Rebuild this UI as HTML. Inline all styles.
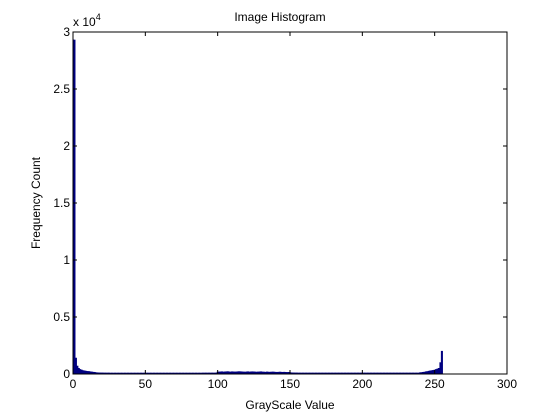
<!DOCTYPE html>
<html><head><meta charset="utf-8"><style>
body{margin:0;background:#fff;}
svg{display:block;font-family:"Liberation Sans",sans-serif;}
</style></head><body>
<svg id="chart" width="560" height="420" viewBox="0 0 560 420">
<rect x="0" y="0" width="560" height="420" fill="#fff"/>
<rect x="73" y="32" width="434" height="342" fill="#fff"/>
<g id="bars"></g>
<rect x="73" y="32" width="434" height="342" fill="none" stroke="#000" stroke-width="1"/>
<g id="ticks"></g>
<text x="280" y="21" font-size="12" text-anchor="middle">Image Histogram</text>
<text x="290" y="409" font-size="12" text-anchor="middle">GrayScale Value</text>
<text x="40" y="203" font-size="12" text-anchor="middle" transform="rotate(-90 40 203)">Frequency Count</text>
<text x="73" y="26" font-size="12">x 10<tspan font-size="9" dy="-6">4</tspan></text>
</svg>
<script>
const xTicks=[0,50,100,150,200,250,300];
const yTicks=[0,5000,10000,15000,20000,25000,30000];
const yTickLabels=["0","0.5","1","1.5","2","2.5","3"];
const counts=[
29300,29300,1400,700,500,400,350,300,280,250,
230,220,200,180,160,150,120,110,100,100,
95,95,90,90,90,90,85,85,85,85,
85,85,85,85,85,85,85,85,85,85,
85,85,85,85,85,85,85,85,85,85,
85,85,85,85,85,85,85,85,85,85,
85,85,85,85,85,85,85,85,85,85,
85,85,85,85,85,85,85,85,85,85,
85,85,85,85,85,85,85,85,85,85,
90,90,90,90,90,90,90,90,90,90,
170,180,190,200,180,190,200,210,190,180,
200,190,180,190,200,210,200,190,180,170,
190,200,180,190,200,190,180,170,180,190,
200,180,170,160,180,170,160,170,180,170,
160,150,160,170,160,150,160,150,140,150,
120,110,100,100,95,95,90,90,90,90,
90,90,90,90,90,90,90,90,90,90,
90,90,90,90,90,90,90,90,90,90,
90,90,90,90,90,90,90,90,90,90,
90,90,90,90,90,90,90,90,90,90,
90,90,90,90,90,90,90,90,90,90,
90,90,90,90,90,90,90,90,90,90,
90,90,90,90,90,90,90,90,90,90,
90,90,90,90,90,90,90,90,90,90,
120,130,150,170,200,220,250,280,300,320,
350,400,450,500,1000,2000];
const X0=73,X1=507,Y0=374,Y1=32;
const xs=v=>X0+(v/300)*(X1-X0);
const ys=v=>Y0-(v/30000)*(Y0-Y1);
const NS="http://www.w3.org/2000/svg";
const bars=document.getElementById('bars');
counts.forEach((c,i)=>{
  const r=document.createElementNS(NS,'rect');
  const xa=Math.max(xs(i-0.5),X0), xb=xs(i+0.5);
  r.setAttribute('x',xa);r.setAttribute('width',xb-xa);
  r.setAttribute('y',ys(c));r.setAttribute('height',Y0-ys(c));
  r.setAttribute('fill','#000080');r.setAttribute('stroke','#000080');r.setAttribute('stroke-width','0.6');
  
  
  bars.appendChild(r);
});
const tg=document.getElementById('ticks');
function ln(x1,y1,x2,y2,n){const l=document.createElementNS(NS,'line');
l.setAttribute('x1',x1);l.setAttribute('y1',y1);l.setAttribute('x2',x2);l.setAttribute('y2',y2);l.setAttribute('stroke','#000');


tg.appendChild(l);}
function tx(x,y,s,a,n){const t=document.createElementNS(NS,'text');
t.setAttribute('x',x);t.setAttribute('y',y);t.setAttribute('font-size','12');t.setAttribute('text-anchor',a);t.textContent=s;


tg.appendChild(t);}
xTicks.forEach(v=>{const x=xs(v);ln(x,Y0,x,Y0-4,'x-tick');ln(x,Y1,x,Y1+4,'x-tick-top');tx(x,Y0+14,String(v),'middle','x-tick-label');});
yTicks.forEach((v,i)=>{const y=ys(v);ln(X0,y,X0+4,y,'y-tick');ln(X1,y,X1-4,y,'y-tick-right');tx(X0-3,y+4,yTickLabels[i],'end','y-tick-label');});
</script>
</body></html>
